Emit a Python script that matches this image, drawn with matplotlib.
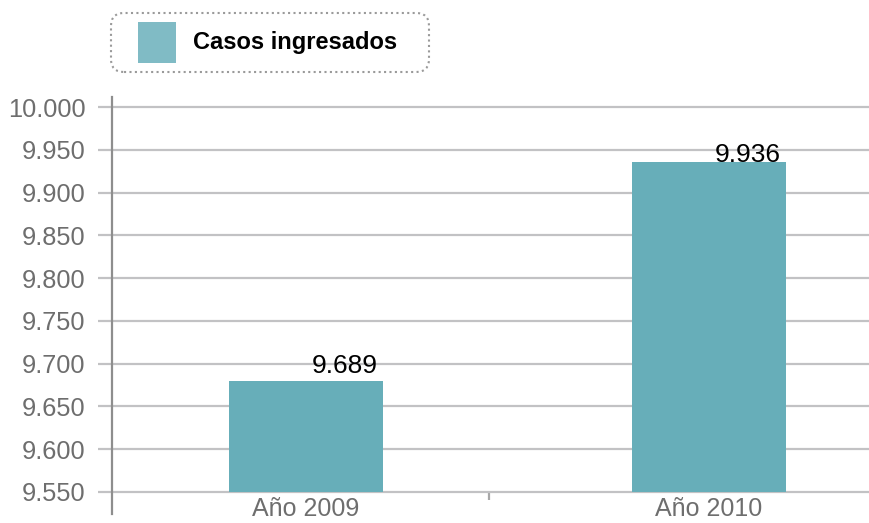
import matplotlib
matplotlib.use("Agg")
import matplotlib.pyplot as plt
from matplotlib.patches import FancyBboxPatch, Rectangle
from matplotlib.ticker import FixedLocator

plt.rcParams['font.family'] = ['Liberation Sans', 'DejaVu Sans']

categories = ["Año 2009", "Año 2010"]
bar_values = [9680, 9936]
value_labels = ["9.689", "9.936"]
label_values = [9689, 9936]
series_name = "Casos ingresados"
baseline = 9550
yticks = [9550, 9600, 9650, 9700, 9750, 9800, 9850, 9900, 9950, 10000]
ytick_labels = ["9.550", "9.600", "9.650", "9.700", "9.750", "9.800",
                "9.850", "9.900", "9.950", "10.000"]

W, H = 869, 523
fig = plt.figure(figsize=(W / 100, H / 100), dpi=100)
ax = fig.add_axes([112 / W, (H - 514) / H, 1 - 112 / W, (514 - 97) / H])

bar_color = "#67aeb9"
grid_color = "#c2c2c4"
x = list(range(len(categories)))
ax.bar(x, [v - baseline for v in bar_values], bottom=baseline, width=0.382,
       color=bar_color, zorder=3)

ax.set_xlim(-0.481, 1.397)
ax.set_ylim(9524, 10011.7)

ax.set_yticks(yticks)
ax.set_yticklabels(ytick_labels)
ax.yaxis.grid(True, color=grid_color, linewidth=1.6, zorder=1)
ax.tick_params(axis='y', length=10, width=1.6, color=grid_color, pad=9,
               labelsize=18.3, labelcolor="#6e6e6e")

ax.spines['bottom'].set_position(('data', baseline))
ax.spines['bottom'].set_visible(False)
ax.set_xticks(x)
ax.set_xticklabels(categories)
ax.tick_params(axis='x', which='major', length=0, pad=4, labelsize=18,
               labelcolor="#6e6e6e")
ax.xaxis.set_minor_locator(FixedLocator([0.454]))
ax.tick_params(axis='x', which='minor', length=6, width=1.6, color="#a8a8a8")

ax.spines['top'].set_visible(False)
ax.spines['right'].set_visible(False)
ax.spines['left'].set_color("#8e8e8e")
ax.spines['left'].set_linewidth(1.6)
ax.set_axisbelow(True)

for xi, v, lab in zip(x, label_values, value_labels):
    ax.text(xi + 0.097, v, lab, ha='center', va='baseline', fontsize=19,
            color="black", zorder=4)

# legend
box = FancyBboxPatch((111 / W, (H - 72) / H), (429 - 111) / W, (72 - 13) / H,
                     boxstyle="round,pad=0,rounding_size=0.015",
                     transform=fig.transFigure, facecolor="white",
                     edgecolor="#9a9a9a", linestyle=(0, (1, 1.6)),
                     linewidth=1.5, mutation_aspect=W / H)
fig.patches.append(box)
patch = Rectangle((138 / W, (H - 63) / H), 38 / W, 41 / H,
                  transform=fig.transFigure, facecolor="#80bbc5",
                  edgecolor="none")
fig.patches.append(patch)
fig.text(193 / W, (H - 43) / H, series_name, fontsize=17, fontweight='bold',
         color="black", ha='left', va='center')

fig.savefig("out.png", dpi=100)
